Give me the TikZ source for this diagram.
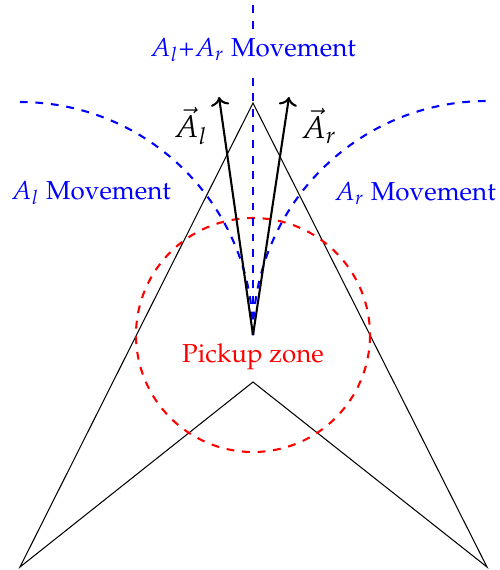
\documentclass[tikz,border=0pt]{standalone}
\usepackage[T1]{fontenc}
\usepackage{mathpazo}
\usetikzlibrary{arrows.meta}

\begin{document}
\begin{tikzpicture}[x=0.385pt,y=-0.385pt,
  mv/.style={blue,dashed,thick},
  zone/.style={red,dashed,thick},
  vec/.style={->,thick}]
  \useasboundingbox (0,0) rectangle (500,570);
  % body of the robot
  \coordinate (o) at (253,335);
  \coordinate (tip) at (253,103);
  \coordinate (bl) at (20,567);
  \coordinate (br) at (487,567);
  \coordinate (notch) at (253,382);
  \coordinate (top) at (253,0);
  \draw (tip)--(bl)--(notch)--(br)--cycle;
  \draw[zone] (o) circle[radius=117];
  \node[red] (pz) at (253,357) {Pickup zone};
  % movements
  \node[blue] (lr) at (253,50) {$A_l$+$A_r$ Movement};
  \node[blue] (lm) at (91,193) {$A_l$ Movement};
  \node[blue] (rm) at (415,193) {$A_r$ Movement};
  \draw[mv] (o)--(lr.south);\draw[mv] (lr.north)--(top);
  \draw[mv] (o) arc[start angle=0,end angle=-90,radius=233];
  \draw[mv] (o) arc[start angle=180,end angle=270,radius=234];
  % wheel vectors
  \coordinate (al) at (219,97);
  \coordinate (ar) at (289,97);
  \draw[vec] (o)--(al);\draw[vec] (o)--(ar);
  \node[font=\large] (alab) at (191,126) {$\vec{A}_l$};
  \node[font=\large] (arlab) at (319,126) {$\vec{A}_r$};
\end{tikzpicture}
\end{document}
